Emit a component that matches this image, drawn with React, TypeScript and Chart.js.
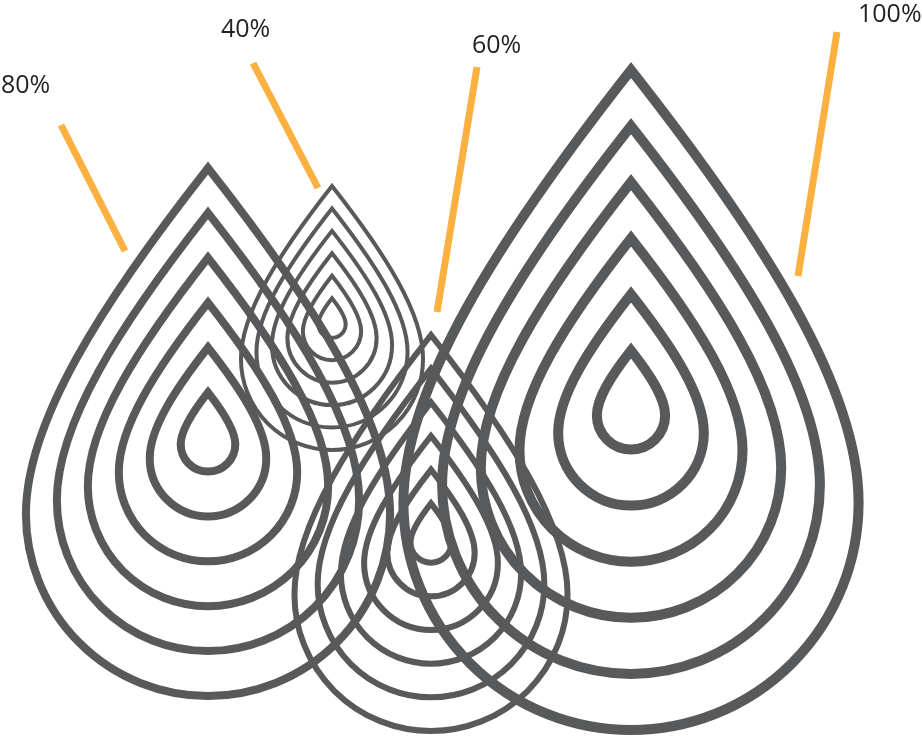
import React, { useEffect, useRef } from 'react';
import { Chart, registerables } from 'chart.js';

Chart.register(...registerables);

// ---- data ----
const labels = ['80%', '40%', '60%', '100%'];
const values = [80, 40, 60, 100];
const ringCounts = [6, 6, 6, 6];

// ---- layout (data units of hidden 922 x 737 axes) ----
const DROP_X = [208, 332, 431, 631];
const DROP_BOTTOM = [696, 450, 731, 730];
const LEADER_FROM = [[61, 125], [253, 63], [477, 67], [837, 32]];
const LEADER_TO = [[125, 251], [318, 188], [437, 312], [798, 276]];
const LABEL_POS = [[1, 93], [221, 37], [472, 53], [858, 22]];

const HEIGHT_PER_UNIT = 6.6; // drop height per percentage point
const INNER_RATIO = 0.15;
const TIP = 1.9; // tip distance / radius

const GREY = '#58595B';
const ORANGE = '#FBB040';
const TEXT = '#231F20';

function dropPath(ctx: CanvasRenderingContext2D, cx: number, cy: number, r: number) {
  const a = 0.59, b = 0.75, c = 0.5;
  ctx.beginPath();
  ctx.moveTo(cx, cy - TIP * r);
  ctx.bezierCurveTo(cx + a * r, cy - (TIP - b) * r, cx + r, cy - c * r, cx + r, cy);
  ctx.arc(cx, cy, r, 0, Math.PI, false);
  ctx.bezierCurveTo(cx - r, cy - c * r, cx - a * r, cy - (TIP - b) * r, cx, cy - TIP * r);
  ctx.closePath();
}

const dropPlugin = {
  id: 'drops',
  afterDatasetsDraw(chart: any) {
    const ctx: CanvasRenderingContext2D = chart.ctx;
    const xs = chart.scales.x;
    const ys = chart.scales.y;
    ctx.save();
    values.forEach((v, i) => {
      const cx = xs.getPixelForValue(DROP_X[i]);
      const bottom = ys.getPixelForValue(DROP_BOTTOM[i]);
      const H = Math.abs(ys.getPixelForValue(DROP_BOTTOM[i] - v * HEIGHT_PER_UNIT) - bottom);
      const mid = bottom - H / 2;
      const n = ringCounts[i];
      ctx.strokeStyle = GREY;
      ctx.lineWidth = v / 10;
      ctx.lineJoin = 'miter';
      ctx.miterLimit = 10;
      for (let k = 0; k < n; k++) {
        const s = 1 - (k * (1 - INNER_RATIO)) / (n - 1);
        const h = H * s;
        const bb = mid + h / 2;
        const r = h / (1 + TIP);
        dropPath(ctx, cx, bb - r, r);
        ctx.stroke();
      }
    });
    // labels
    ctx.fillStyle = TEXT;
    ctx.font = '25px "Open Sans"';
    ctx.textAlign = 'left';
    ctx.textBaseline = 'alphabetic';
    labels.forEach((t, i) => {
      ctx.fillText(t, xs.getPixelForValue(LABEL_POS[i][0]), ys.getPixelForValue(LABEL_POS[i][1]));
    });
    ctx.restore();
  },
};

export default function App() {
  const ref = useRef<HTMLCanvasElement>(null);
  useEffect(() => {
    document.body.style.margin = '0';
    const canvas = ref.current!;
    const chart = new Chart(canvas, {
      type: 'scatter',
      data: {
        datasets: [
          ...labels.map((l, i) => ({
            type: 'line' as const,
            label: l,
            data: [
              { x: LEADER_FROM[i][0], y: LEADER_FROM[i][1] },
              { x: LEADER_TO[i][0], y: LEADER_TO[i][1] },
            ],
            borderColor: ORANGE,
            borderWidth: 7,
            borderCapStyle: 'butt' as const,
            pointRadius: 0,
            fill: false,
          })),
          {
            type: 'scatter' as const,
            label: 'drops',
            data: values.map((v, i) => ({ x: DROP_X[i], y: DROP_BOTTOM[i] })),
            pointRadius: 0,
          },
        ],
      },
      options: {
        animation: false,
        responsive: false,
        layout: { padding: 0 },
        plugins: { legend: { display: false }, tooltip: { enabled: false } },
        scales: {
          x: { type: 'linear', min: 0, max: 922, display: false },
          y: { type: 'linear', min: 0, max: 737, reverse: true, display: false },
        },
      },
      plugins: [dropPlugin],
    });
    return () => chart.destroy();
  }, []);
  return (
    <div style={{ width: 922, height: 737, background: '#fff' }}>
      <canvas ref={ref} width={922} height={737} style={{ display: 'block' }} />
    </div>
  );
}
